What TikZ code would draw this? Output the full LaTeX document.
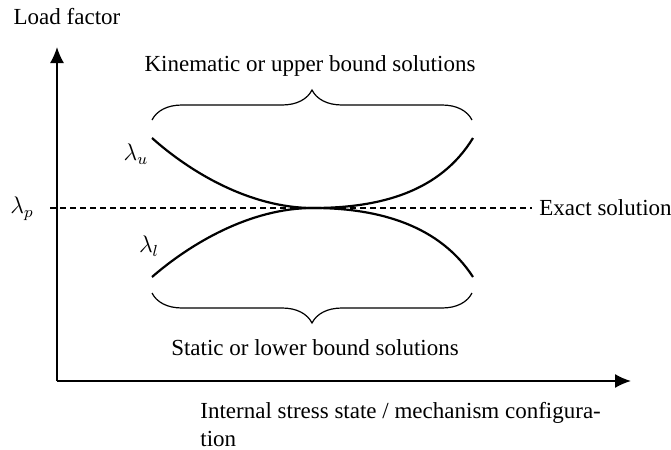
\documentclass[tikz,border=0pt]{standalone}
\usepackage{amsmath}
\usepackage{fontspec}
\setmainfont{Liberation Serif}
\usepackage{tikz}
\usetikzlibrary{arrows.meta,decorations.pathreplacing}

\begin{document}
\begin{tikzpicture}[x=0.5pt, y=-0.5pt,
	axis/.style={line width=0.8pt, -{Latex[length=8pt,width=7pt]}},
	bound/.style={line width=1.1pt},
	curly/.style={line width=0.6pt, decorate, decoration={brace, amplitude=15pt}},
	lbl/.style={font=\fontsize{11.5}{14}\selectfont, inner sep=0pt}]

	\useasboundingbox (0,0) rectangle (671,450);

	\coordinate (O) at (57,381);
	\coordinate (ytop) at (57,47);
	\coordinate (xend) at (631,381);
	\coordinate (d0) at (50,208);
	\coordinate (d1) at (532,208);

	\coordinate (ul) at (152,138);
	\coordinate (ur) at (473,138);
	\coordinate (ll) at (152,277);
	\coordinate (lr) at (473,277);
	\coordinate (c) at (313,208);

	\coordinate (bu0) at (152,120);
	\coordinate (bu1) at (472,120);
	\coordinate (bl0) at (472,293);
	\coordinate (bl1) at (152,293);

	% axes
	\draw[axis] (O) -- (ytop);
	\draw[axis] (O) -- (xend);

	% exact solution
	\draw[line width=0.7pt, dash pattern=on 3pt off 2pt] (d0) -- (d1);

	% upper and lower bounds
	\draw[bound] (ul) .. controls (190,172) and (250,208) .. (c)
		.. controls (380,208) and (440,192) .. (ur);
	\draw[bound] (ll) .. controls (190,244) and (250,208) .. (c)
		.. controls (380,208) and (440,226) .. (lr);

	% braces
	\draw[curly] (bu0) -- (bu1);
	\draw[curly] (bl0) -- (bl1);

	\node[lbl] (yl) at (67,17) {Load factor};
	\node[lbl] (lp) at (22,209) {$\lambda_p$};
	\node[lbl] (lu) at (136,154) {$\lambda_u$};
	\node[lbl] (ll1) at (149,246) {$\lambda_l$};
	\node[lbl] (kin) at (310,66) {Kinematic or upper bound solutions};
	\node[lbl] (sta) at (315,348) {Static or lower bound solutions};
	\node[lbl, anchor=west] (ex) at (539,208) {Exact solution};
	\node[lbl, anchor=north west, align=left] (xl) at (200,402)
		{Internal stress state / mechanism configura-\\tion};
\end{tikzpicture}
\end{document}
